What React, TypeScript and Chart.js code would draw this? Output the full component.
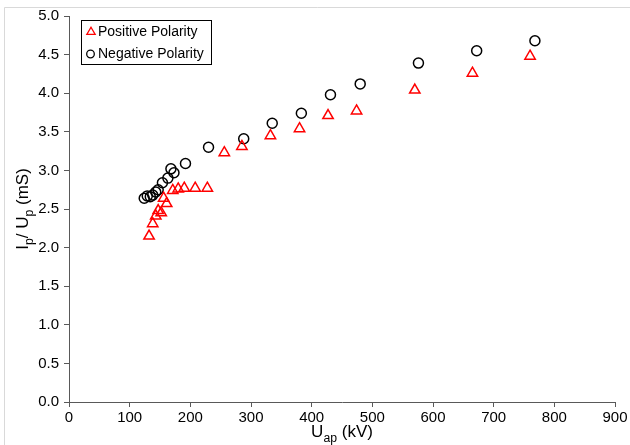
import React, { useEffect, useRef } from "react";
import { Chart, registerables } from "chart.js";

Chart.register(...registerables);

// Applied voltage (kV) and normalised current Ip/Up (mS)
const positiveU: number[] = [132, 138, 143, 147, 152, 156, 161, 171, 180, 190, 208, 228, 256, 285, 332, 380, 427, 474, 570, 665, 760];
const positiveG: number[] = [2.15, 2.31, 2.41, 2.48, 2.45, 2.64, 2.57, 2.74, 2.76, 2.77, 2.77, 2.77, 3.23, 3.31, 3.45, 3.54, 3.71, 3.77, 4.04, 4.26, 4.48];

const negativeU: number[] = [124, 129, 134, 138, 143, 147, 154, 163, 168, 173, 192, 230, 288, 335, 383, 431, 480, 576, 672, 768];
const negativeG: number[] = [2.64, 2.67, 2.66, 2.68, 2.72, 2.75, 2.84, 2.90, 3.02, 2.97, 3.09, 3.30, 3.41, 3.61, 3.74, 3.98, 4.12, 4.39, 4.55, 4.68];

const seriesNames: string[] = ["Positive Polarity", "Negative Polarity"];

const FONT = '"Liberation Sans", Arial, sans-serif';
const AXIS_COLOR = "#595959";

type Part = { t: string; sub?: boolean };

function drawRich(ctx: CanvasRenderingContext2D, parts: Part[], x: number, y: number, size: number, vertical: boolean) {
  const subSize = size * 0.72;
  ctx.save();
  ctx.translate(x, y);
  if (vertical) ctx.rotate(-Math.PI / 2);
  ctx.fillStyle = "#000";
  ctx.textBaseline = "alphabetic";
  ctx.textAlign = "left";
  let total = 0;
  const widths = parts.map((p) => {
    ctx.font = `${p.sub ? subSize : size}px ${FONT}`;
    const w = ctx.measureText(p.t).width;
    total += w;
    return w;
  });
  let cx = -total / 2;
  parts.forEach((p, i) => {
    ctx.font = `${p.sub ? subSize : size}px ${FONT}`;
    ctx.fillText(p.t, cx, p.sub ? size * 0.3 : 0);
    cx += widths[i];
  });
  ctx.restore();
}

const decorPlugin = {
  id: "decor",
  beforeDraw(chart: any) {
    const ctx = chart.ctx as CanvasRenderingContext2D;
    ctx.save();
    ctx.fillStyle = "#fff";
    ctx.fillRect(0, 0, chart.width, chart.height);
    ctx.strokeStyle = "#d9d9d9";
    ctx.lineWidth = 1;
    ctx.beginPath();
    ctx.moveTo(4.5, chart.height);
    ctx.lineTo(4.5, 7.5);
    ctx.lineTo(chart.width, 7.5);
    ctx.stroke();
    ctx.restore();
  },
  afterDraw(chart: any) {
    const ctx = chart.ctx as CanvasRenderingContext2D;
    const area = chart.chartArea;
    const midX = (area.left + area.right) / 2;
    const midY = (area.top + area.bottom) / 2;

    // axis titles with subscripts
    drawRich(ctx, [{ t: "U" }, { t: "ap", sub: true }, { t: " (kV)" }], midX, 437, 17, false);
    drawRich(ctx, [{ t: "I" }, { t: "p", sub: true }, { t: "/ U" }, { t: "p", sub: true }, { t: " (mS)" }], 28, midY, 17, true);

    // legend box
    ctx.save();
    ctx.fillStyle = "#fff";
    ctx.fillRect(81.5, 20.5, 130, 44);
    ctx.strokeStyle = "#000";
    ctx.lineWidth = 1;
    ctx.strokeRect(81.5, 20.5, 130, 44);

    const rows = [32, 54];
    // triangle marker
    ctx.strokeStyle = "#ff0000";
    ctx.lineWidth = 1.3;
    ctx.beginPath();
    const tx = 91, ty = rows[0], r = 4.8;
    ctx.moveTo(tx, ty - r);
    ctx.lineTo(tx + r * Math.sin(Math.PI / 3), ty + r / 2);
    ctx.lineTo(tx - r * Math.sin(Math.PI / 3), ty + r / 2);
    ctx.closePath();
    ctx.stroke();
    // circle marker
    ctx.strokeStyle = "#000";
    ctx.beginPath();
    ctx.arc(90.5, rows[1], 3.8, 0, Math.PI * 2);
    ctx.stroke();

    ctx.fillStyle = "#000";
    ctx.font = `14px ${FONT}`;
    ctx.textBaseline = "middle";
    ctx.textAlign = "left";
    ctx.fillText(seriesNames[0], 98, rows[0] + 0.5);
    ctx.fillText(seriesNames[1], 98, rows[1] + 0.5);
    ctx.restore();
  },
};

export default function App() {
  const canvasRef = useRef<HTMLCanvasElement | null>(null);

  useEffect(() => {
    const canvas = canvasRef.current;
    if (!canvas) return;
    const chart = new Chart(canvas, {
      type: "scatter",
      data: {
        datasets: [
          {
            label: seriesNames[0],
            data: positiveU.map((u, i) => ({ x: u, y: positiveG[i] })),
            pointStyle: "triangle",
            pointRadius: 6,
            pointBorderWidth: 1.5,
            borderColor: "#ff0000",
            backgroundColor: "rgba(0,0,0,0)",
          },
          {
            label: seriesNames[1],
            data: negativeU.map((u, i) => ({ x: u, y: negativeG[i] })),
            pointStyle: "circle",
            pointRadius: 5,
            pointBorderWidth: 1.5,
            borderColor: "#000000",
            backgroundColor: "rgba(0,0,0,0)",
          },
        ],
      },
      options: {
        responsive: false,
        animation: false,
        devicePixelRatio: 1,
        layout: { padding: { left: 0, right: 15, top: 16, bottom: 0 } },
        plugins: {
          legend: { display: false },
          tooltip: { enabled: false },
        },
        scales: {
          x: {
            type: "linear",
            min: 0,
            max: 900,
            afterFit: (scale: any) => {
              scale.height = 43;
            },
            ticks: {
              stepSize: 100,
              color: "#000",
              font: { family: FONT, size: 15 },
              padding: 2,
              maxRotation: 0,
            },
            grid: {
              display: true,
              drawOnChartArea: false,
              drawTicks: true,
              tickLength: 5,
              color: AXIS_COLOR,
            },
            border: { display: true, color: AXIS_COLOR, width: 1 },
            title: { display: false },
          },
          y: {
            type: "linear",
            min: 0,
            max: 5,
            afterFit: (scale: any) => {
              scale.width = 69;
            },
            ticks: {
              stepSize: 0.5,
              color: "#000",
              font: { family: FONT, size: 15 },
              padding: 5,
              callback: (v: any) => Number(v).toFixed(1),
            },
            grid: {
              display: true,
              drawOnChartArea: false,
              drawTicks: true,
              tickLength: 5,
              color: AXIS_COLOR,
            },
            border: { display: true, color: AXIS_COLOR, width: 1 },
            title: { display: false },
          },
        },
      },
      plugins: [decorPlugin],
    });
    return () => chart.destroy();
  }, []);

  return (
    <div style={{ position: "fixed", left: 0, top: 0, width: 630, height: 445, background: "#fff" }}>
      <canvas ref={canvasRef} width={630} height={445} style={{ width: 630, height: 445, display: "block" }} />
    </div>
  );
}
